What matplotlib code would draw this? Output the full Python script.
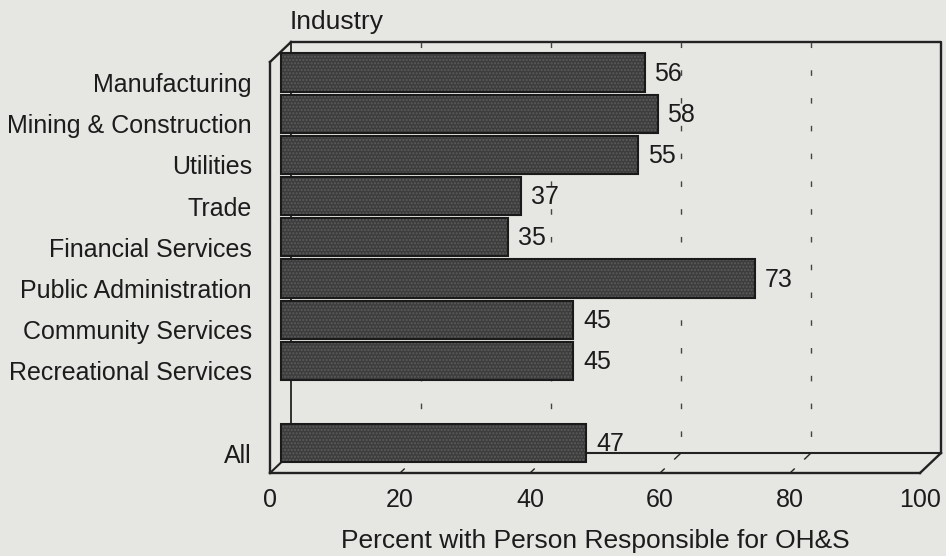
import matplotlib
matplotlib.use('Agg')
import matplotlib.pyplot as plt
import matplotlib.transforms as mtransforms
from matplotlib.lines import Line2D

# Data
industries = ['Manufacturing', 'Mining & Construction', 'Utilities', 'Trade',
              'Financial Services', 'Public Administration', 'Community Services',
              'Recreational Services', 'All']
positions = [0, 1, 2, 3, 4, 5, 6, 7, 9]
percent = [56, 58, 55, 37, 35, 73, 45, 45, 47]
grid_values = [20, 40, 60, 80]
x_ticks = [0, 20, 40, 60, 80, 100]

plt.rcParams['font.family'] = ['Liberation Sans', 'DejaVu Sans']

W, H, DPI = 946, 556, 100
BG = '#e6e6e3'
LINE = '#222222'
TXT = '#1c1c1c'
FS = 18
# depth of the box in pixels (right, up)
DX, DY = 21, 20

fig = plt.figure(figsize=(W / DPI, H / DPI), dpi=DPI, facecolor=BG)
# front plane of the box
ax = fig.add_axes([270 / W, (H - 473) / H, 650 / W, (473 - 62) / H])
ax.set_facecolor('none')
ax.set_xlim(0, 100)
ax.set_ylim(9.48, -0.5)
y0, y1 = 9.48, -0.5
for s in ax.spines.values():
    s.set_visible(False)

back = mtransforms.offset_copy(ax.transData, fig, x=DX, y=DY, units='dots')
mid = mtransforms.offset_copy(ax.transData, fig, x=DX / 2, y=DY / 2, units='dots')
ident = mtransforms.IdentityTransform()


def depth_line(x, y, f0, f1, **kw):
    px, py = ax.transData.transform((x, y))
    ln = Line2D([px + DX * f0, px + DX * f1], [py + DY * f0, py + DY * f1],
                transform=ident, clip_on=False, **kw)
    ax.add_artist(ln)


# back wall
ax.plot([0, 100, 100], [y1, y1, y0], color=LINE, lw=1.7, transform=back,
        zorder=1, clip_on=False)
ax.plot([0, 0], [y1, y0], color=LINE, lw=1.3, transform=back, zorder=1, clip_on=False)
ax.plot([0, 100], [y0, y0], color=LINE, lw=1.5, transform=back, zorder=1, clip_on=False)
for g in grid_values:
    ax.plot([g, g], [y1, y0], color='#444444', lw=1.0, linestyle=(0, (4, 16)),
            transform=back, zorder=1, clip_on=False)
    depth_line(g, y0, 1.0, 0.7, color=LINE, lw=1.0, zorder=1)
    depth_line(g, y0, 0.0, 0.2, color=LINE, lw=1.0, zorder=1)

# left wall and floor front edges
ax.plot([0, 0], [y1, y0], color=LINE, lw=1.7, zorder=1, clip_on=False)
ax.plot([0, 100], [y0, y0], color=LINE, lw=1.7, zorder=1, clip_on=False)
depth_line(0, y1, 0, 1, color=LINE, lw=1.7, zorder=1)
depth_line(0, y0, 0, 1, color=LINE, lw=1.5, zorder=1)
depth_line(100, y0, 0, 1, color=LINE, lw=1.7, zorder=1)

# bars at half depth
ax.barh(positions, percent, height=0.93, color='#3d3d3d', hatch='.....',
        edgecolor='#5c5c5c', linewidth=0, transform=mid, zorder=3, clip_on=False)
ax.barh(positions, percent, height=0.93, color='none', edgecolor='#1a1a1a',
        linewidth=1.5, transform=mid, zorder=4, clip_on=False)
for p, v in zip(positions, percent):
    ax.text(v, p, str(v), fontsize=FS, color=TXT, ha='left', va='center',
            transform=mtransforms.offset_copy(mid, fig, x=10, y=-1, units='dots'),
            zorder=5, clip_on=False)

ax.set_yticks(positions)
ax.set_yticklabels(industries, fontsize=FS, color=TXT)
ax.set_xticks(x_ticks)
ax.set_xticklabels([str(t) for t in x_ticks], fontsize=FS, color=TXT)
ax.tick_params(axis='both', length=0)
ax.tick_params(axis='y', pad=13)
ax.tick_params(axis='x', pad=11)
ax.set_xlabel('Percent with Person Responsible for OH&S', fontsize=19,
              color=TXT, labelpad=12)

fig.text(290 / W, 1 - 22 / H, 'Industry', fontsize=19, color=TXT,
         ha='left', va='center')

fig.savefig('out.png', dpi=DPI, facecolor=BG)
